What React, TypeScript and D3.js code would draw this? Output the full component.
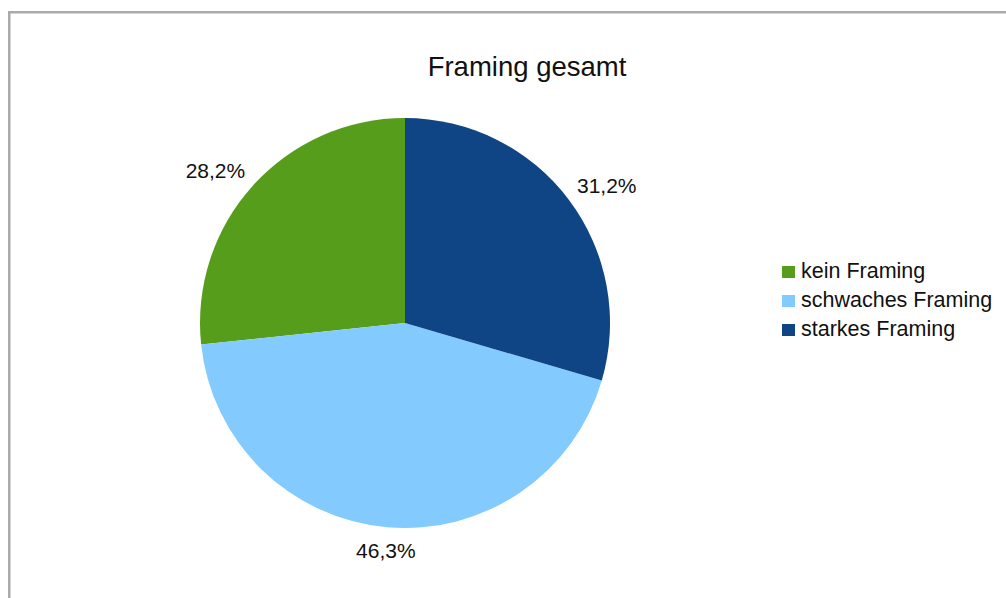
import React from "react";
import * as d3 from "d3";

const categories = ["kein Framing", "schwaches Framing", "starkes Framing"];
const values = [28.2, 46.3, 31.2];
const labels = ["28,2%", "46,3%", "31,2%"];
const colors = ["#579d1c", "#83caff", "#0f4584"];
const title = "Framing gesamt";

const W = 1006;
const H = 598;
const cx = 405;
const cy = 323;
const R = 205;
const FONT = "'Liberation Sans', Arial, Helvetica, sans-serif";

export default function App() {
  const pie = d3
    .pie<number>()
    .sort(null)
    .value((d) => d)
    .startAngle(0)
    .endAngle(-2 * Math.PI);
  const arcs = pie(values);
  const arc = d3.arc<d3.PieArcDatum<number>>().innerRadius(0).outerRadius(R);

  const legendX = 782;
  const legendY0 = 278;
  const legendStep = 29;

  return (
    <svg
      width={W}
      height={H}
      style={{ position: "absolute", left: 0, top: 0, background: "#fff" }}
    >
      <rect x={0} y={0} width={W} height={H} fill="#fff" />
      <rect
        x={9.25}
        y={12.25}
        width={W + 20}
        height={H + 20}
        fill="none"
        stroke="#aaaaaa"
        strokeWidth={2.5}
      />
      <text
        x={527}
        y={76}
        textAnchor="middle"
        fontFamily={FONT}
        fontSize={27.5}
        fill="#111"
      >
        {title}
      </text>
      <g transform={`translate(${cx},${cy})`}>
        {arcs.map((a, i) => (
          <path key={categories[i]} d={arc(a) || ""} fill={colors[i]} />
        ))}
        {arcs.map((a, i) => {
          const mid = (a.startAngle + a.endAngle) / 2;
          const s = Math.sin(mid);
          const c = -Math.cos(mid);
          const rr = R + 10;
          const px = s * rr;
          const py = c * rr;
          const anchor = Math.abs(s) < 0.3 ? "middle" : s > 0 ? "start" : "end";
          const baseY = c < 0 ? py - 1.5 : py + 21;
          return (
            <text
              key={labels[i]}
              x={px}
              y={baseY}
              textAnchor={anchor}
              fontFamily={FONT}
              fontSize={21}
              fill="#111"
            >
              {labels[i]}
            </text>
          );
        })}
      </g>
      <g>
        {categories.map((c, i) => (
          <g key={c}>
            <rect
              x={legendX}
              y={legendY0 + i * legendStep - 12}
              width={13}
              height={12}
              fill={colors[i]}
            />
            <text
              x={801}
              y={legendY0 + i * legendStep}
              fontFamily={FONT}
              fontSize={21.5}
              fill="#111"
            >
              {c}
            </text>
          </g>
        ))}
      </g>
    </svg>
  );
}
